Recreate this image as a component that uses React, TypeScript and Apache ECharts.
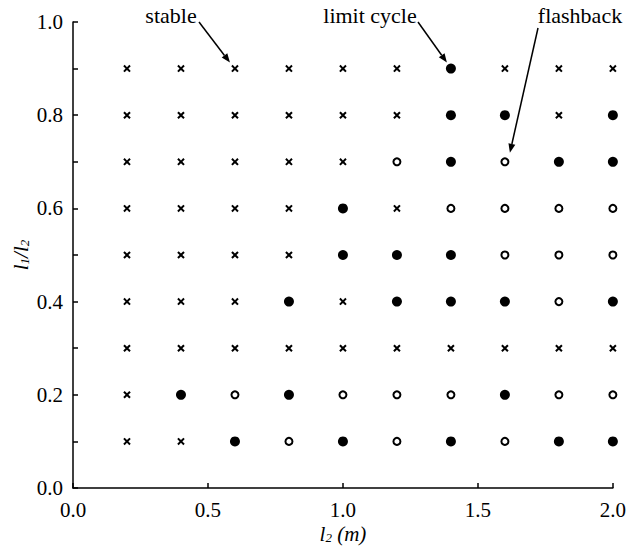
import React, { useEffect, useRef } from "react";
import * as echarts from "echarts";

// l2 values (columns) and l1/l2 values (rows, top to bottom)
const xValues = [0.2, 0.4, 0.6, 0.8, 1.0, 1.2, 1.4, 1.6, 1.8, 2.0];
const yValues = [0.9, 0.8, 0.7, 0.6, 0.5, 0.4, 0.3, 0.2, 0.1];
// x = stable, f = limit cycle (filled), o = flashback (open)
const stateRows = [
  "xxxxxxfxxx",
  "xxxxxxffxf",
  "xxxxxofoff",
  "xxxxfxoooo",
  "xxxxfffooo",
  "xxxfxfffof",
  "xxxxxxxxxx",
  "xfofooofoo",
  "xxfofofoff",
];
const annotations = [
  { text: "stable", x: 0.6, y: 0.9 },
  { text: "limit cycle", x: 1.4, y: 0.9 },
  { text: "flashback", x: 1.6, y: 0.7 },
];

const FONT = "'Liberation Serif', 'Times New Roman', serif";
const CROSS =
  "path://M0,1.9L1.9,0L5,3.1L8.1,0L10,1.9L6.9,5L10,8.1L8.1,10L5,6.9L1.9,10L0,8.1L3.1,5Z";

function pointsOf(code: string): number[][] {
  const pts: number[][] = [];
  stateRows.forEach((row, ri) => {
    row.split("").forEach((c, ci) => {
      if (c === code) pts.push([xValues[ci], yValues[ri]]);
    });
  });
  return pts;
}

const richName = {
  i: { fontFamily: FONT, fontStyle: "italic", fontSize: 21, color: "#000", lineHeight: 22, verticalAlign: "bottom" },
  s: { fontFamily: FONT, fontStyle: "italic", fontSize: 13, color: "#000", lineHeight: 18, verticalAlign: "bottom", padding: [7, 0, 0, 0] },
};

export default function App() {
  const ref = useRef<HTMLDivElement>(null);
  useEffect(() => {
    if (!ref.current) return;
    const chart = echarts.init(ref.current, undefined, { renderer: "svg" });
    chart.setOption({
      animation: false,
      backgroundColor: "#fff",
      grid: { left: 73, right: 15, top: 22, bottom: 63, containLabel: false },
      xAxis: {
        type: "value",
        min: 0,
        max: 2,
        interval: 0.5,
        splitLine: { show: false },
        axisLine: { lineStyle: { color: "#000", width: 1.5 } },
        axisTick: { inside: true, length: 5, lineStyle: { color: "#000", width: 1.5 } },
        axisLabel: {
          color: "#000",
          fontFamily: FONT,
          fontSize: 21,
          margin: 11,
          formatter: (v: number) => v.toFixed(1),
        },
        name: "{i|l}{s|2}{i| (m)}",
        nameLocation: "middle",
        nameGap: 34,
        nameMoveOverlap: false,
        nameTextStyle: { rich: richName },
      },
      yAxis: {
        type: "value",
        min: 0,
        max: 1,
        interval: 0.1,
        splitLine: { show: false },
        axisLine: { lineStyle: { color: "#000", width: 1.5 } },
        axisTick: { inside: true, length: 5, lineStyle: { color: "#000", width: 1.5 } },
        axisLabel: {
          color: "#000",
          fontFamily: FONT,
          fontSize: 21,
          margin: 10,
          formatter: (v: number) => (Math.round(v * 10) % 2 === 0 ? v.toFixed(1) : ""),
        },
        name: "{i|l}{s|1}{i|/l}{s|2}",
        nameLocation: "middle",
        nameRotate: 90,
        nameGap: 42,
        nameMoveOverlap: false,
        nameTextStyle: { rich: richName },
      },
      series: [
        {
          name: "stable",
          type: "scatter",
          symbol: CROSS,
          symbolSize: 7.5,
          itemStyle: { color: "#000", opacity: 1 },
          data: pointsOf("x"),
        },
        {
          name: "limit cycle",
          type: "scatter",
          symbol: "circle",
          symbolSize: 10,
          itemStyle: { color: "#000", opacity: 1 },
          data: pointsOf("f"),
        },
        {
          name: "flashback",
          type: "scatter",
          symbol: "circle",
          symbolSize: 7,
          itemStyle: { color: "#fff", borderColor: "#000", borderWidth: 2, opacity: 1 },
          data: pointsOf("o"),
        },
      ],
    });

    // annotation arrows: tail near label, tip near the data point
    const tails = [
      [199, 22],
      [418, 22],
      [538, 28],
    ];
    const tipOffsets = [
      [-5, -6],
      [-4, -6],
      [5, -9],
    ];
    const labelPos = [
      [171, 15],
      [370, 15],
      [580, 15],
    ];
    const graphics: any[] = [];
    annotations.forEach((a, i) => {
      const p = chart.convertToPixel({ gridIndex: 0 }, [a.x, a.y]) as number[];
      const tip = [p[0] + tipOffsets[i][0], p[1] + tipOffsets[i][1]];
      const tail = tails[i];
      const dx = tip[0] - tail[0];
      const dy = tip[1] - tail[1];
      const len = Math.hypot(dx, dy);
      const ux = dx / len;
      const uy = dy / len;
      const hl = 9;
      const hw = 3.5;
      const bx = tip[0] - ux * hl;
      const by = tip[1] - uy * hl;
      graphics.push({
        type: "line",
        shape: { x1: tail[0], y1: tail[1], x2: bx, y2: by },
        style: { stroke: "#000", lineWidth: 1.5 },
      });
      graphics.push({
        type: "polygon",
        shape: {
          points: [
            [tip[0], tip[1]],
            [bx - uy * hw, by + ux * hw],
            [bx + uy * hw, by - ux * hw],
          ],
        },
        style: { fill: "#000" },
      });
      graphics.push({
        type: "text",
        x: labelPos[i][0],
        y: labelPos[i][1],
        style: {
          text: a.text,
          fontFamily: FONT,
          fontSize: 22,
          fill: "#000",
          align: "center",
          verticalAlign: "middle",
        },
      });
    });
    chart.setOption({ graphic: graphics });

    return () => chart.dispose();
  }, []);
  return (
    <div
      ref={ref}
      style={{ position: "absolute", left: 0, top: 0, width: 629, height: 551 }}
    />
  );
}
